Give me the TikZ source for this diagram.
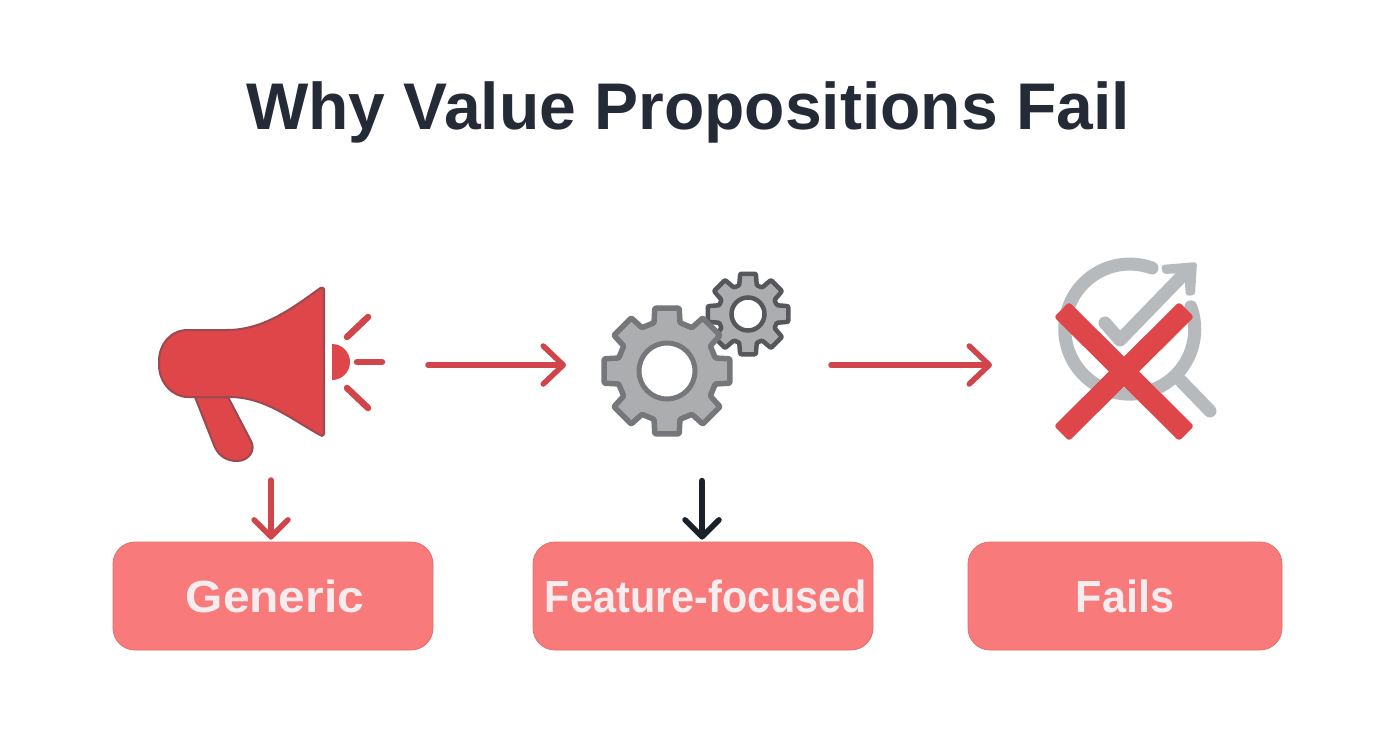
\documentclass[tikz,border=0pt]{standalone}
\usepackage{fontspec}
\setmainfont{Liberation Sans}
\usetikzlibrary{arrows.meta}
\definecolor{ink}{HTML}{242B37}
\definecolor{red1}{HTML}{DE4649}
\definecolor{redline}{HTML}{D0444A}
\definecolor{redoutline}{HTML}{9A4A50}
\definecolor{boxfill}{HTML}{F87A7A}
\definecolor{labelcol}{HTML}{F8EDEE}
\definecolor{gearfill}{HTML}{ABADAF}
\definecolor{gearline}{HTML}{75777A}
\definecolor{gearlinedark}{HTML}{55575A}
\definecolor{iconline}{HTML}{B7BABC}
\definecolor{arrowink}{HTML}{1B2129}
\tikzset{
  x=1pt,y=-1pt,
  labelbox/.style={draw=boxfill!92!black,line width=0.8pt,fill=boxfill,rounded corners=22pt,inner sep=0pt,
    text=labelcol,font=\fontsize{45}{50}\selectfont\bfseries,anchor=center},
  flow/.style={line width=5.5pt,line cap=round,line join=round,color=redline,
    -{Straight Barb[length=20pt,width=38pt,line width=5.5pt,round]}},
  drop/.style={line width=5.5pt,line cap=round,line join=round,color=redline,shorten >=2pt,
    -{Straight Barb[length=17pt,width=34pt,line width=5.5pt,round]}},
  dropdark/.style={drop,line width=6.5pt,color=arrowink},
  ray/.style={line width=6.5pt,line cap=round,color=redline},
  megaphone/.style={fill=red1,draw=redoutline,line width=2pt,line join=round},
  greyicon/.style={line width=13pt,color=iconline},
  cross/.style={fill=red1,rounded corners=3pt},
}
\begin{document}
\begin{tikzpicture}
\useasboundingbox (0,0) rectangle (1392,752);
\fill[white] (0,0) rectangle (1392,752);

\node[text=ink,font=\fontsize{66}{80}\selectfont\bfseries] (title) at (688,112) {Why Value Propositions Fail};

% boxes
\node[labelbox,minimum width=320pt,minimum height=108pt,text depth=0pt] (generic) at (273,596) {\hspace{4pt}\scalebox{1.066}[1]{Generic}};
\node[labelbox,minimum width=340pt,minimum height=108pt] (feature) at (703,596) {\hspace{6pt}\scalebox{0.92}[1]{Feature-focused}};
\node[labelbox,minimum width=314pt,minimum height=108pt] (fails) at (1125,596) {\scalebox{0.96}[1]{Fails}};

% megaphone
\draw[megaphone] (195,397) -- (214,445) .. controls (218,456) and (227,461) .. (237,461)
   .. controls (249,461) and (256,450) .. (251,441) -- (228,397) -- cycle;
\draw[megaphone,rounded corners=2pt] (190,330)
   .. controls (170,330) and (159,345) .. (159,363)
   .. controls (159,382) and (172,397) .. (190,397)
   -- (230,397) .. controls (265,398) and (290,418) .. (320,435)
   .. controls (322,436) and (324,435) .. (324,432)
   -- (324,291) .. controls (324,288) and (322,287) .. (319,289)
   .. controls (290,310) and (262,330) .. (225,330) -- cycle;
\fill[red1] (332,344) arc[start angle=-90,end angle=90,radius=18] -- cycle;
\draw[ray] (347,337) -- (368,317);
\draw[ray] (357,362) -- (382,362);
\draw[ray] (347,388) -- (368,408);

% gears
\begin{scope}[shift={(748,314)}]
  \filldraw[fill=gearfill,draw=gearlinedark,line width=4.5pt,line join=round,rounded corners=1pt]
    (-17:30) \foreach \a in {0,45,...,315} { -- (\a-17:30) -- (\a-11:41) -- (\a+11:41) -- (\a+17:30) } -- cycle;
  \filldraw[fill=white,draw=gearlinedark,line width=4.5pt] (0,0) circle[radius=16.5];
\end{scope}
\begin{scope}[shift={(667,371)}]
  \filldraw[fill=gearfill,draw=gearline,line width=5.5pt,line join=round,rounded corners=1pt]
    (-15:50) \foreach \a in {0,45,...,315} { -- (\a-15:50) -- (\a-11:64) -- (\a+11:64) -- (\a+15:50) } -- cycle;
  \filldraw[fill=white,draw=gearline,line width=5pt] (0,0) circle[radius=28];
\end{scope}

% failed-growth icon
\draw[greyicon,line cap=round] (1152,268) arc[start angle=-70,end angle=-380,radius=65];
\draw[greyicon,line cap=round] (1180,380) -- (1210,411);
\draw[greyicon,line cap=round,line join=round] (1105,323) -- (1120,340) -- (1182,276);
\fill[iconline,rounded corners=3pt] (1161,265) -- (1197,262) -- (1195,295) -- (1186,296) -- (1184,273) -- (1163,274) -- cycle;
\fill[cross] (1054,317) -- (1069,302) -- (1194,426) -- (1179,441) -- cycle;
\fill[cross] (1179,302) -- (1194,317) -- (1069,441) -- (1054,426) -- cycle;

% connectors
\coordinate (megaout) at (428,365);
\coordinate (gearin) at (566,365);
\coordinate (gearout) at (831,365);
\coordinate (crossin) at (992,365);
\coordinate (megadown) at (271,480);
\coordinate (geardown) at (702,481);
\draw[flow] (megaout) -- (gearin);
\draw[flow] (gearout) -- (crossin);
\draw[drop] (megadown) -- (megadown |- generic.north);
\draw[dropdark] (geardown) -- (geardown |- feature.north);
\end{tikzpicture}
\end{document}
